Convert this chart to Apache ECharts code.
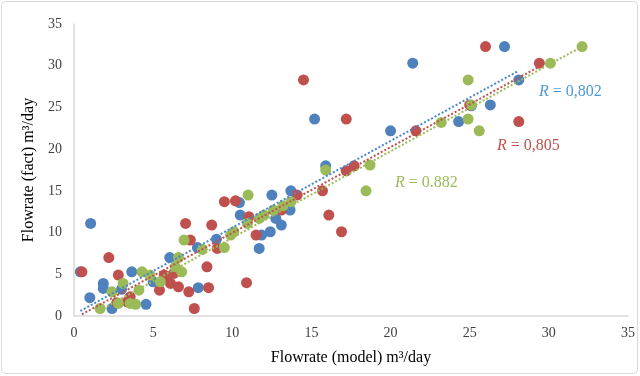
<!DOCTYPE html>
<html><head><meta charset="utf-8">
<script src="https://cdn.jsdelivr.net/npm/echarts@6/dist/echarts.min.js"></script>
<style>html,body{margin:0;padding:0;background:#fff}#c{width:640px;height:376px}</style>
</head><body><div id="c"></div>
<script>
const xTicks = [0,5,10,15,20,25,30,35];
const yTicks = [0,5,10,15,20,25,30,35];
const blueData = [[1.05,11.1],[0.4,5.3],[1.0,2.2],[1.85,3.9],[1.85,3.3],[2.4,0.9],[3.0,3.2],[3.65,5.3],[4.55,1.4],[5.0,4.1],[6.05,7.0],[7.85,3.4],[7.8,8.2],[9.0,9.2],[10.45,13.6],[10.5,12.1],[11.7,8.1],[11.85,9.7],[12.4,10.1],[12.75,11.7],[13.1,10.9],[12.5,14.5],[13.7,15.0],[13.65,12.7],[15.9,18.0],[15.2,23.6],[20.0,22.2],[21.4,30.3],[24.3,23.3],[25.1,25.2],[26.3,25.3],[27.2,32.3],[28.1,28.3]];
const redData = [[0.5,5.3],[2.2,7.0],[2.8,4.9],[2.7,1.6],[3.35,1.7],[3.55,2.3],[5.4,3.1],[5.9,4.7],[5.7,4.9],[6.1,3.9],[6.3,5.1],[6.6,3.5],[7.25,2.9],[8.5,3.4],[7.6,0.9],[8.4,5.9],[7.05,11.1],[7.35,9.1],[8.7,10.9],[9.05,8.1],[9.5,13.7],[10.2,13.8],[10.9,4.0],[11.05,11.9],[11.5,9.7],[13.1,12.7],[14.1,14.5],[15.7,15.0],[16.1,12.1],[16.9,10.1],[17.2,17.4],[17.7,18.0],[14.5,28.3],[17.2,23.6],[21.6,22.2],[25.0,25.3],[26.0,32.3],[29.4,30.3],[28.1,23.3]];
const greenData = [[1.65,0.9],[2.4,2.9],[2.8,1.5],[3.1,3.9],[3.9,1.4],[3.55,1.5],[4.1,3.1],[4.3,5.3],[4.8,4.9],[5.45,4.1],[6.4,5.9],[6.6,7.0],[6.8,5.3],[6.95,9.1],[8.1,8.0],[9.5,8.2],[9.9,9.7],[10.1,10.1],[10.95,11.1],[11.0,14.5],[11.7,11.7],[12.0,12.1],[12.6,12.7],[13.2,13.2],[13.7,13.7],[15.9,17.5],[18.45,15.0],[18.7,18.1],[23.2,23.2],[24.9,28.3],[25.1,25.3],[24.9,23.6],[25.6,22.2],[30.1,30.3],[32.1,32.3]];
const blueTrend = [[0.4,0.6],[28.1,29.4]];
const redTrend = [[0.5,0.2],[29.4,29.9]];
const greenTrend = [[1.65,0.7],[32.1,32.3]];
const labels = {blue:'0,802', red:'0,805', green:'0.882'};

const C = {blue:'#4f81bd', red:'#c0504d', green:'#9bbb59'};
const serif = 'Liberation Serif, Times New Roman, serif';
const chart = echarts.init(document.getElementById('c'));
function scatter(d,col){return {type:'scatter',data:d,symbolSize:11,itemStyle:{color:col,opacity:1},z:2};}
function trend(d,col){return {type:'line',data:d,symbol:'none',lineStyle:{color:col,width:2,type:[2,2]},z:3,silent:true};}
function rText(x,y,val,col){return {type:'text',left:x,top:y,style:{rich:{i:{fontStyle:'italic',fontFamily:serif,fontSize:16,fill:col},n:{fontFamily:serif,fontSize:16,fill:col}},text:'{i|R}{n| = '+val+'}',fill:col}};}
chart.setOption({
  animation:false,
  grid:{left:74,right:12,top:24,bottom:60},
  xAxis:{type:'value',min:xTicks[0],max:xTicks[xTicks.length-1],interval:5,
    name:'Flowrate (model) m³/day',nameLocation:'middle',nameGap:34,
    nameTextStyle:{fontFamily:serif,fontSize:16,color:'#000'},
    axisLine:{lineStyle:{color:'#d9d9d9',width:1.5}},axisTick:{show:false},splitLine:{show:false},
    axisLabel:{fontFamily:serif,fontSize:14,color:'#404040',margin:10}},
  yAxis:{type:'value',min:yTicks[0],max:yTicks[yTicks.length-1],interval:5,
    name:'Flowrate (fact) m³/day',nameLocation:'middle',nameGap:36,
    nameTextStyle:{fontFamily:serif,fontSize:16,color:'#000'},
    axisLine:{show:true,lineStyle:{color:'#d9d9d9',width:1.5}},axisTick:{show:false},splitLine:{show:false},
    axisLabel:{fontFamily:serif,fontSize:14,color:'#404040',margin:12}},
  graphic:[
    {type:'rect',shape:{x:1.5,y:1.5,width:636,height:372,r:4},style:{fill:'none',stroke:'#d9d9d9',lineWidth:1},z:-1},
    rText(539,84,labels.blue,'#4a9ad6'),
    rText(497,138,labels.red,C.red),
    rText(395,175,labels.green,C.green)
  ],
  series:[scatter(blueData,C.blue),scatter(redData,C.red),scatter(greenData,C.green),
    trend(blueTrend,'#4a86d0'),trend(redTrend,C.red),trend(greenTrend,C.green)]
});
</script></body></html>
